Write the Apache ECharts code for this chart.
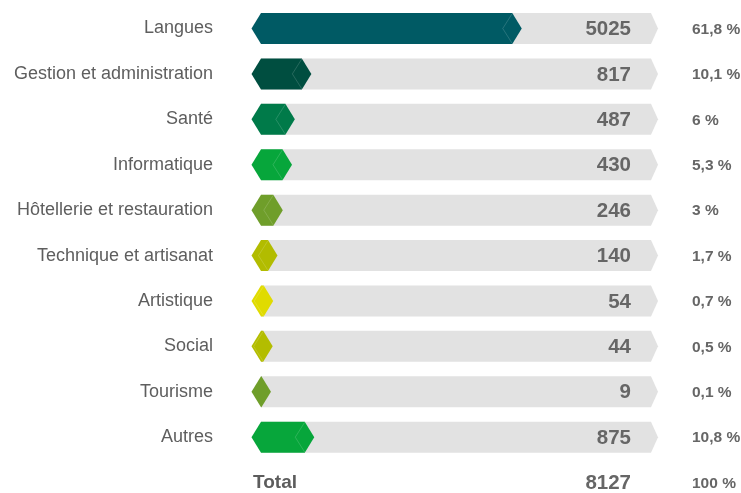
<!DOCTYPE html>
<html>
<head>
<meta charset="utf-8">
<script src="https://cdn.jsdelivr.net/npm/echarts@6/dist/echarts.min.js"></script>
<style>
  html, body { margin: 0; padding: 0; background: #ffffff; }
  #chart { width: 741px; height: 493px; }
</style>
</head>
<body>
<div id="chart"></div>
<script>
// Domaines de formation : nombre d'inscrits et part du total
const categories = ['Langues', 'Gestion et administration', 'Santé', 'Informatique',
  'Hôtellerie et restauration', 'Technique et artisanat', 'Artistique', 'Social',
  'Tourisme', 'Autres', 'Total'];
const counts = [5025, 817, 487, 430, 246, 140, 54, 44, 9, 875, 8127];
const shares = ['61,8 %', '10,1 %', '6 %', '5,3 %', '3 %', '1,7 %', '0,7 %', '0,5 %', '0,1 %', '10,8 %', '100 %'];
const barColors = ['#005a64', '#004e40', '#007a49', '#07a63b', '#6f9e2a', '#b2bc00',
  '#e0db00', '#b3bd00', '#6f9e2a', '#07a63b', null];
const scaleMax = 7800;

const FONT = '"Liberation Sans", Arial, sans-serif';
const TIP = 9.5;       // depth of the colored bar points
const GRAY_TIP = 7;    // depth of the track point
const BAR_H = 31;

const chart = echarts.init(document.getElementById('chart'), null, { renderer: 'canvas' });

const seriesData = counts.map((c, i) => [c, i]);

function renderItem(params, api) {
  const i = api.value(1);
  const v = api.value(0);
  const origin = api.coord([0, i]);
  const x0 = origin[0];
  const yc = origin[1];
  const xv = api.coord([v, i])[0];
  const xMax = api.coord([scaleMax, i])[0];
  const top = yc - BAR_H / 2;
  const bot = yc + BAR_H / 2;
  const children = [];
  const isTotal = categories[i] === 'Total';

  if (!isTotal) {
    children.push({
      type: 'polygon',
      shape: { points: [[x0, top], [xMax, top], [xMax + GRAY_TIP, yc], [xMax, bot], [x0, bot]] },
      style: { fill: '#e2e2e2' }
    });
    children.push({
      type: 'polygon',
      shape: { points: [[x0 - TIP, yc], [x0, top], [xv, top], [xv + TIP, yc], [xv, bot], [x0, bot]] },
      style: { fill: barColors[i] }
    });
    if (xv - x0 > 2) {
      children.push({
        type: 'polyline',
        shape: { points: [[xv, top + 0.5], [xv - TIP, yc], [xv, bot - 0.5]] },
        style: { stroke: 'rgba(255,255,255,0.22)', lineWidth: 0.7, fill: null }
      });
    }
  } else {
    children.push({
      type: 'text',
      style: {
        text: categories[i], x: x0 - 8, y: yc, align: 'left', verticalAlign: 'middle',
        fontFamily: FONT, fontWeight: 'bold', fontSize: 19, fill: '#5c5c5c'
      }
    });
  }

  children.push({
    type: 'text',
    style: {
      text: String(counts[i]), x: xMax - 20, y: yc + 1, align: 'right', verticalAlign: 'middle',
      fontFamily: FONT, fontWeight: 'bold', fontSize: 20.5, fill: '#666666'
    }
  });
  children.push({
    type: 'text',
    style: {
      text: shares[i], x: xMax + 41, y: yc + 1, align: 'left', verticalAlign: 'middle',
      fontFamily: FONT, fontWeight: 'bold', fontSize: 15.5, fill: '#666666'
    }
  });

  return { type: 'group', children };
}

chart.setOption({
  animation: false,
  backgroundColor: '#ffffff',
  // first row centred at the top edge, "Total" row at the bottom edge
  grid: { left: 261, top: 28.5, right: 90, bottom: 10.4, containLabel: false },
  xAxis: { type: 'value', min: 0, max: scaleMax, show: false },
  yAxis: {
    type: 'category',
    data: categories,
    inverse: true,
    boundaryGap: false,
    axisLine: { show: false },
    axisTick: { show: false },
    splitLine: { show: false },
    axisLabel: {
      margin: 48,
      fontFamily: FONT,
      fontSize: 18,
      color: '#5e5e5e',
      formatter: (val) => (val === 'Total' ? '' : val)
    }
  },
  series: [{
    type: 'custom',
    renderItem,
    encode: { x: 0, y: 1 },
    data: seriesData,
    clip: false
  }]
});
</script>
</body>
</html>
